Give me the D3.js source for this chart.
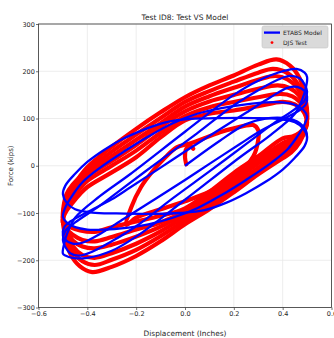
<!DOCTYPE html>
<html>
<head>
<meta charset="utf-8">
<script src="https://cdn.jsdelivr.net/npm/d3@7"></script>
<style>
  body { margin: 0; background: #fff; }
  text { font-family: "DejaVu Sans", sans-serif; fill: #262626; }
</style>
</head>
<body>
<svg width="334" height="338"></svg>
<script>
// axis ticks
const xTicks = [-0.6, -0.4, -0.2, 0, 0.2, 0.4, 0.6];
const yTicks = [-300, -200, -100, 0, 100, 200, 300];

// ETABS model, [displacement in, force kips]
const etabsStart = [[0, 0], [0.143, 53], [0.25, 88], [0.33, 100], [0.42, 100], [0.47, 90], [0.495, 75], [0.5, 60]];
const etabsA = [[-0.5, -60], [-0.49, -42], [-0.45, -17], [-0.4, 8], [-0.33, 34], [-0.25, 58], [-0.17, 76], [-0.08, 92], [0.02, 99], [0.15, 101], [0.28, 101], [0.38, 99], [0.45, 92], [0.485, 78], [0.5, 60], [0.49, 42], [0.45, 17], [0.4, -8], [0.33, -34], [0.25, -58], [0.17, -78], [0.08, -94], [-0.02, -100], [-0.15, -102], [-0.28, -101], [-0.38, -99], [-0.45, -92], [-0.485, -78]];
const etabsB = [[-0.5, -108], [-0.49, -88], [-0.46, -62], [-0.42, -35], [-0.35, -5], [-0.25, 30], [-0.15, 62], [-0.05, 90], [0.05, 110], [0.15, 122], [0.25, 130], [0.33, 134], [0.4, 134], [0.45, 129], [0.485, 118], [0.5, 104], [0.49, 88], [0.46, 62], [0.42, 35], [0.35, 5], [0.25, -30], [0.15, -62], [0.05, -90], [-0.05, -110], [-0.15, -124], [-0.25, -132], [-0.33, -135], [-0.4, -135], [-0.45, -130], [-0.485, -120]];
const etabsC = [[-0.5, -148], [-0.495, -130], [-0.47, -118], [-0.4, -98], [-0.3, -71], [-0.225, -46], [-0.1, -4], [0, 30], [0.13, 73], [0.25, 112], [0.35, 145], [0.42, 165], [0.46, 167], [0.49, 158], [0.5, 146], [0.495, 130], [0.47, 118], [0.4, 98], [0.3, 71], [0.225, 46], [0.1, 4], [0, -30], [-0.13, -73], [-0.25, -112], [-0.35, -145], [-0.42, -163], [-0.46, -165], [-0.49, -157]];
const etabsD2 = [[-0.5, -157], [-0.49, -138], [-0.45, -120], [-0.35, -85], [-0.266, -52], [-0.1, 12], [0.048, 68], [0.2, 128], [0.3, 160], [0.38, 182], [0.43, 190], [0.47, 185], [0.49, 172], [0.5, 157], [0.49, 138], [0.45, 120], [0.35, 85], [0.266, 52], [0.1, -12], [-0.048, -68], [-0.2, -128], [-0.3, -160], [-0.38, -182], [-0.43, -190], [-0.47, -185], [-0.49, -172]];
const etabsD1 = [[-0.5, -186], [-0.495, -165], [-0.48, -140], [-0.45, -110], [-0.35, -65], [-0.225, -18], [0, 72], [0.2, 150], [0.3, 180], [0.4, 200], [0.457, 205], [0.49, 197], [0.5, 188], [0.495, 165], [0.48, 140], [0.45, 110], [0.35, 65], [0.225, 18], [0, -72], [-0.2, -150], [-0.3, -180], [-0.4, -195], [-0.46, -195], [-0.49, -190]];
const etabsLoops = [etabsA, etabsB, etabsC, etabsD2, etabsD1];

// DJS test
const djsStart = [[0.005, 3], [0, 18], [0.003, 33], [0.018, 42], [0.034, 36]];
const djsInner = [[-0.24, -125], [-0.22, -88], [-0.18, -45], [-0.13, -10], [-0.08, 18], [-0.034, 39], [0.02, 47], [0.074, 57], [0.143, 71], [0.2, 79], [0.28, 86], [0.3, 75], [0.3, 55], [0.28, 20], [0.2, -25], [0.1, -55], [0, -75], [-0.1, -92], [-0.2, -110]];
const djsR1 = [[-0.5, -118], [-0.497, -95], [-0.485, -70], [-0.46, -45], [-0.43, -22], [-0.4, -3], [-0.3, 40], [-0.2, 78], [-0.1, 113], [0, 145], [0.1, 170], [0.2, 191], [0.3, 214], [0.375, 225], [0.43, 212], [0.47, 185], [0.49, 150], [0.5, 115], [0.495, 82], [0.47, 50], [0.435, 28], [0.4, 16], [0.3, -18], [0.2, -56], [0.1, -92], [0, -124], [-0.1, -160], [-0.2, -191], [-0.3, -214], [-0.38, -225], [-0.43, -213], [-0.47, -186], [-0.49, -150]];
const djsR2 = [[-0.5, -108], [-0.497, -85], [-0.485, -60], [-0.46, -40], [-0.43, -24], [-0.4, -10], [-0.3, 30], [-0.2, 66], [-0.1, 101], [0, 135], [0.1, 158], [0.2, 178], [0.3, 197], [0.36, 205], [0.42, 196], [0.46, 175], [0.485, 145], [0.5, 112], [0.495, 84], [0.47, 56], [0.44, 36], [0.4, 25], [0.3, -10], [0.2, -48], [0.1, -84], [0, -116], [-0.1, -149], [-0.2, -178], [-0.3, -199], [-0.37, -210], [-0.42, -202], [-0.46, -180], [-0.485, -148]];
const djsR3 = [[-0.5, -110], [-0.497, -92], [-0.485, -70], [-0.46, -48], [-0.43, -30], [-0.4, -16], [-0.3, 20], [-0.2, 55], [-0.1, 90], [0, 125], [0.1, 147], [0.2, 165], [0.3, 182], [0.37, 190], [0.42, 183], [0.46, 165], [0.485, 140], [0.5, 110], [0.495, 85], [0.47, 62], [0.44, 44], [0.4, 32], [0.3, -4], [0.2, -41], [0.1, -76], [0, -108], [-0.1, -139], [-0.2, -165], [-0.3, -185], [-0.37, -195], [-0.42, -189], [-0.46, -170], [-0.485, -140]];
const djsR4 = [[-0.5, -115], [-0.497, -100], [-0.485, -80], [-0.46, -57], [-0.43, -37], [-0.4, -22], [-0.3, 10], [-0.2, 44], [-0.1, 82], [0, 115], [0.1, 136], [0.2, 150], [0.3, 163], [0.38, 170], [0.43, 164], [0.465, 150], [0.49, 128], [0.5, 105], [0.495, 85], [0.47, 66], [0.44, 50], [0.4, 40], [0.3, 5], [0.2, -33], [0.1, -70], [0, -101], [-0.1, -129], [-0.2, -150], [-0.3, -167], [-0.37, -175], [-0.42, -171], [-0.46, -158], [-0.485, -137]];
const djsR5 = [[-0.5, -120], [-0.497, -105], [-0.485, -88], [-0.46, -68], [-0.43, -48], [-0.4, -32], [-0.3, 0], [-0.2, 32], [-0.1, 70], [0, 105], [0.1, 124], [0.2, 135], [0.3, 145], [0.39, 152], [0.44, 147], [0.47, 135], [0.49, 118], [0.5, 100], [0.495, 85], [0.47, 70], [0.44, 56], [0.4, 48], [0.3, 12], [0.2, -25], [0.1, -62], [0, -96], [-0.1, -120], [-0.2, -135], [-0.3, -151], [-0.37, -160], [-0.42, -157], [-0.46, -146], [-0.485, -134]];
const djsR6 = [[-0.5, -120], [-0.497, -108], [-0.485, -95], [-0.46, -78], [-0.43, -60], [-0.4, -45], [-0.3, -14], [-0.2, 18], [-0.1, 60], [0, 96], [0.1, 110], [0.2, 117], [0.3, 126], [0.4, 135], [0.45, 130], [0.48, 118], [0.495, 104], [0.5, 92], [0.495, 80], [0.47, 70], [0.44, 62], [0.4, 58], [0.3, 20], [0.2, -15], [0.1, -55], [0, -90], [-0.1, -106], [-0.2, -118], [-0.3, -130], [-0.37, -140], [-0.43, -137], [-0.47, -130], [-0.49, -125]];
const djsLoops = [djsInner, djsR1, djsR2, djsR3, djsR4, djsR5, djsR6];

const svg = d3.select("svg");
const pLeft = 38.5, pRight = 331.5, pTop = 24, pBottom = 307.5;

const x = d3.scaleLinear().domain([-0.6, 0.6]).range([pLeft, pRight]);
const y = d3.scaleLinear().domain([-300, 300]).range([pBottom, pTop]);

svg.append("rect").attr("width", 334).attr("height", 338).attr("fill", "#fff");

// grid
svg.append("g").selectAll("line").data(xTicks).join("line")
  .attr("x1", d => x(d)).attr("x2", d => x(d))
  .attr("y1", pTop).attr("y2", pBottom)
  .attr("stroke", "#e8e8e8").attr("stroke-width", 0.8);
svg.append("g").selectAll("line").data(yTicks).join("line")
  .attr("x1", pLeft).attr("x2", pRight)
  .attr("y1", d => y(d)).attr("y2", d => y(d))
  .attr("stroke", "#e8e8e8").attr("stroke-width", 0.8);

const fmtX = d => (d < 0 ? "\u2212" : "") + Math.abs(d).toFixed(1);
const fmtY = d => (d < 0 ? "\u2212" : "") + Math.abs(d);

const xAxis = svg.append("g")
  .attr("transform", `translate(0,${pBottom})`)
  .call(d3.axisBottom(x).tickValues(xTicks).tickFormat(fmtX).tickSize(2.5).tickPadding(1.5));
const yAxis = svg.append("g")
  .attr("transform", `translate(${pLeft},0)`)
  .call(d3.axisLeft(y).tickValues(yTicks).tickFormat(fmtY).tickSize(2.5).tickPadding(1.2));
[xAxis, yAxis].forEach(g => {
  g.select(".domain").remove();
  g.selectAll(".tick line").attr("stroke", "#333").attr("stroke-width", 0.7);
  g.selectAll(".tick text").attr("font-size", 6.5).attr("fill", "#262626")
    .style("font-family", "DejaVu Sans, sans-serif");
});

// DJS test (red band)
const closedLine = d3.line().x(d => x(d[0])).y(d => y(d[1])).curve(d3.curveCatmullRomClosed);
const openLine = d3.line().x(d => x(d[0])).y(d => y(d[1])).curve(d3.curveCatmullRom);
const plot = svg.append("g");
plot.selectAll("path.djs").data(djsLoops).join("path")
  .attr("class", "djs")
  .attr("d", closedLine)
  .attr("fill", "none").attr("stroke", "#ff0000")
  .attr("stroke-width", 4.2).attr("stroke-linejoin", "round");
plot.append("path")
  .attr("d", openLine(djsStart))
  .attr("fill", "none").attr("stroke", "#ff0000").attr("stroke-width", 4.2).attr("stroke-linecap", "round");

// ETABS model (blue line)
plot.selectAll("path.etabs").data(etabsLoops).join("path")
  .attr("class", "etabs")
  .attr("d", closedLine)
  .attr("fill", "none").attr("stroke", "#0000ff").attr("stroke-width", 2.3);
plot.append("path")
  .attr("d", openLine(etabsStart))
  .attr("fill", "none").attr("stroke", "#0000ff").attr("stroke-width", 2.3);

// frame
svg.append("rect")
  .attr("x", pLeft).attr("y", pTop).attr("width", pRight - pLeft).attr("height", pBottom - pTop)
  .attr("fill", "none").attr("stroke", "#333").attr("stroke-width", 0.8);

// title and labels
svg.append("text").attr("x", (pLeft + pRight) / 2).attr("y", 19.5)
  .attr("text-anchor", "middle").attr("font-size", 7.5).text("Test ID8: Test VS Model");
svg.append("text").attr("x", (pLeft + pRight) / 2).attr("y", 336)
  .attr("text-anchor", "middle").attr("font-size", 7.4).text("Displacement (Inches)");
svg.append("text").attr("transform", `translate(13,${y(0)}) rotate(-90)`)
  .attr("text-anchor", "middle").attr("font-size", 7).text("Force (kips)");

// legend
const lg = svg.append("g");
lg.append("rect").attr("x", 262).attr("y", 26).attr("width", 66).attr("height", 22).attr("rx", 2)
  .attr("fill", "#dadada").attr("stroke", "#c4c4c4").attr("stroke-width", 0.6);
lg.append("line").attr("x1", 264).attr("x2", 280).attr("y1", 32.6).attr("y2", 32.6)
  .attr("stroke", "#0000ff").attr("stroke-width", 2.3);
lg.append("circle").attr("cx", 272).attr("cy", 42.6).attr("r", 1.4).attr("fill", "#ff0000");
lg.append("text").attr("x", 283).attr("y", 34.8).attr("font-size", 6).text("ETABS Model");
lg.append("text").attr("x", 283).attr("y", 44.8).attr("font-size", 6).text("DJS Test");
</script>
</body>
</html>
